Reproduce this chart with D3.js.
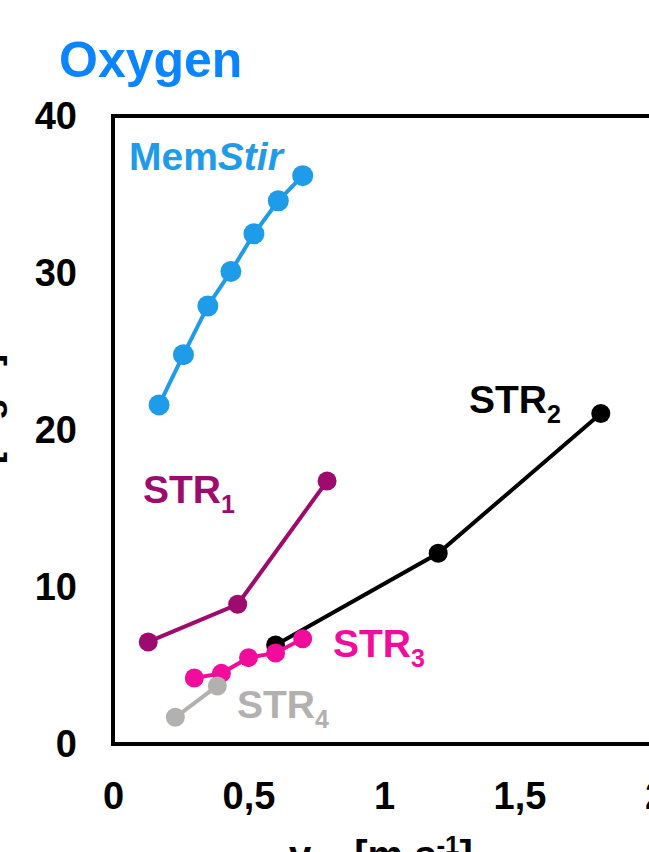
<!DOCTYPE html>
<html>
<head>
<meta charset="utf-8">
<script src="https://cdn.jsdelivr.net/npm/d3@7"></script>
<style>
  body { margin: 0; background: #fff; }
  text { font-family: "Liberation Sans", Arial, sans-serif; font-weight: bold; }
</style>
</head>
<body>
<svg id="chart" width="649" height="852"></svg>
<script>
var vMemStir = [0.17, 0.26, 0.35, 0.435, 0.52, 0.61, 0.70];
var yMemStir = [21.6, 24.8, 27.9, 30.1, 32.5, 34.6, 36.2];
var vStr1 = [0.13, 0.46, 0.79];
var yStr1 = [6.5, 8.9, 16.75];
var vStr2 = [0.60, 1.20, 1.80];
var yStr2 = [6.3, 12.15, 21.05];
var vStr3 = [0.30, 0.40, 0.50, 0.60, 0.70];
var yStr3 = [4.2, 4.5, 5.5, 5.8, 6.7];
var vStr4 = [0.23, 0.385];
var yStr4 = [1.7, 3.7];
var xTicks = [0, 0.5, 1, 1.5, 2];
var yTicks = [0, 10, 20, 30, 40];

var series = [
	{ name: "MemStir", v: vMemStir, y: yMemStir, color: "#1E9BE9", r: 10.5 },
	{ name: "STR1", v: vStr1, y: yStr1, color: "#9E0B6F", r: 9.5 },
	{ name: "STR2", v: vStr2, y: yStr2, color: "#000000", r: 9.5 },
	{ name: "STR3", v: vStr3, y: yStr3, color: "#F20C9C", r: 9.5 },
	{ name: "STR4", v: vStr4, y: yStr4, color: "#B3B0B0", r: 9.5 }
];

var svg = d3.select("#chart");
var x = d3.scaleLinear().domain([0, 2]).range([113, 655]);
var y = d3.scaleLinear().domain([0, 40]).range([744, 116]);
var fmt = function(d) { return String(d).replace(".", ","); };

// axes (no tick marks, box drawn separately)
var gx = svg.append("g").attr("transform", "translate(0,744)")
	.call(d3.axisBottom(x).tickValues(xTicks).tickSize(0).tickPadding(38).tickFormat(fmt));
var gy = svg.append("g").attr("transform", "translate(113,0)")
	.call(d3.axisLeft(y).tickValues(yTicks).tickSize(0).tickPadding(36).tickFormat(fmt));
[gx, gy].forEach(function(g) {
	g.select(".domain").remove();
	g.selectAll("text").attr("font-size", 38).attr("fill", "#000")
		.attr("font-family", "Liberation Sans, Arial, sans-serif").attr("font-weight", "bold");
});

svg.append("rect")
	.attr("x", x(0)).attr("y", y(40))
	.attr("width", x(2) - x(0)).attr("height", y(0) - y(40))
	.attr("fill", "none").attr("stroke", "#000").attr("stroke-width", 4);

// series
var line = d3.line().x(function(d) { return x(d[0]); }).y(function(d) { return y(d[1]); });
series.forEach(function(s) {
	var pts = s.v.map(function(v, i) { return [v, s.y[i]]; });
	var g = svg.append("g");
	g.append("path").attr("d", line(pts)).attr("fill", "none")
		.attr("stroke", s.color).attr("stroke-width", 4);
	g.selectAll("circle").data(pts).enter().append("circle")
		.attr("cx", function(d) { return x(d[0]); })
		.attr("cy", function(d) { return y(d[1]); })
		.attr("r", s.r).attr("fill", s.color);
});

// title
svg.append("text").attr("x", 59).attr("y", 77).attr("font-size", 50)
	.attr("fill", "#0A84FF").text("Oxygen");

// series labels
var mem = svg.append("text").attr("x", 129).attr("y", 170).attr("font-size", 39).attr("fill", "#1E9BE9");
mem.append("tspan").text("Mem");
mem.append("tspan").attr("font-style", "italic").text("Stir");

function strLabel(px, py, sub, color) {
	var t = svg.append("text").attr("x", px).attr("y", py).attr("font-size", 39).attr("fill", color);
	t.append("tspan").text("STR");
	t.append("tspan").attr("font-size", 25).attr("dy", 10).text(sub);
}
strLabel(469, 413, "2", "#000000");
strLabel(143, 503, "1", "#9E0B6F");
strLabel(333, 657, "3", "#F20C9C");
strLabel(237, 718, "4", "#B3B0B0");

// axis titles
var xt = svg.append("text").attr("x", 381).attr("y", 869).attr("font-size", 40)
	.attr("text-anchor", "middle").attr("fill", "#000");
xt.append("tspan").text("v");
xt.append("tspan").attr("font-size", 26).attr("dy", 9).text("tip");
xt.append("tspan").attr("dy", -9).text(" [m s");
xt.append("tspan").attr("font-size", 26).attr("dy", -15).text("-1");
xt.append("tspan").attr("dy", 15).text("]");

svg.append("text").attr("transform", "translate(-1,354) rotate(-90)")
	.attr("font-size", 36).attr("text-anchor", "end").attr("fill", "#000")
	.text("DO [mg/L]");
</script>
</body>
</html>
